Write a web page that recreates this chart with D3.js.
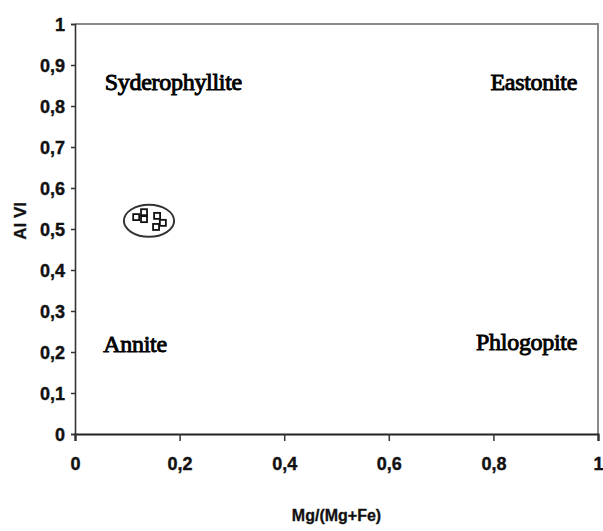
<!DOCTYPE html>
<html>
<head>
<meta charset="utf-8">
<script src="https://cdn.jsdelivr.net/npm/d3@7"></script>
<style>
  body { margin: 0; background: #fff; }
  svg { display: block; }
  .tick text { font-family: "Liberation Sans", Arial, sans-serif; font-weight: bold; font-size: 18px; fill: #111; stroke: #111; stroke-width: 0.4px; }
  .field { font-family: "Liberation Serif", "Times New Roman", serif; font-size: 24px; fill: #000; stroke: #000; stroke-width: 0.9px; letter-spacing: -0.3px; }
  .title { font-family: "Liberation Sans", Arial, sans-serif; font-weight: bold; fill: #111; stroke: #111; stroke-width: 0.3px; }
</style>
</head>
<body>
<svg width="603" height="531"></svg>
<script>
// axis ticks
const xTicks = [0, 0.2, 0.4, 0.6, 0.8, 1];
const yTicks = [0, 0.1, 0.2, 0.3, 0.4, 0.5, 0.6, 0.7, 0.8, 0.9, 1];

// measured biotites, Mg/(Mg+Fe) vs Al VI
const mgRatio = [0.117, 0.132, 0.132, 0.157, 0.155, 0.168];
const alVI    = [0.529, 0.541, 0.524, 0.532, 0.505, 0.515];

// end-member names and where they sit
const fieldNames  = ["Syderophyllite", "Eastonite", "Annite", "Phlogopite"];
const fieldX      = [0.057, 0.96, 0.054, 0.96];
const fieldY      = [0.84, 0.84, 0.2, 0.205];
const fieldAnchor = ["start", "end", "start", "end"];

// the ring drawn round the samples
const ring = { cx: 0.1415, cy: 0.52, rx: 0.048, ry: 0.039 };

const svg = d3.select("svg");
const margin = { top: 24, right: 5, bottom: 97, left: 75 };
const width = 603, height = 531;

const x = d3.scaleLinear().domain([0, 1]).range([margin.left, width - margin.right]);
const y = d3.scaleLinear().domain([0, 1]).range([height - margin.bottom, margin.top]);

const fmt = d3.formatLocale({ decimal: ",", thousands: ".", grouping: [3], currency: ["", ""] }).format("~g");

// frame: top and right edges
svg.append("path")
  .attr("d", `M${x(0)},${y(1)}H${x(1)}V${y(0)}`)
  .attr("fill", "none")
  .attr("stroke", "#8a8a8a")
  .attr("stroke-width", 2);

// y axis
svg.append("g")
  .attr("transform", `translate(${x(0)},0)`)
  .call(d3.axisLeft(y).tickValues(yTicks).tickFormat(fmt).tickSize(4).tickPadding(6))
  .call(g => g.select(".domain").attr("stroke", "#333").attr("stroke-width", 1.6))
  .call(g => g.selectAll(".tick line").attr("stroke", "#333").attr("stroke-width", 1.5))
  .call(g => g.selectAll(".tick text").attr("dy", "0.36em"));

// x axis
svg.append("g")
  .attr("transform", `translate(0,${y(0)})`)
  .call(d3.axisBottom(x).tickValues(xTicks).tickFormat(fmt).tickSize(7).tickPadding(16))
  .call(g => g.select(".domain").attr("stroke", "#222").attr("stroke-width", 2.2))
  .call(g => g.selectAll(".tick line").attr("stroke", "#333").attr("stroke-width", 1.5));

// axis titles
svg.append("text")
  .attr("class", "title")
  .attr("x", (x(0) + x(1)) / 2)
  .attr("y", 521)
  .attr("text-anchor", "middle")
  .attr("font-size", 16)
  .text("Mg/(Mg+Fe)");

svg.append("text")
  .attr("class", "title")
  .attr("transform", `translate(26,${y(0.52)}) rotate(-90)`)
  .attr("text-anchor", "middle")
  .attr("font-size", 17)
  .text("Al VI");

// field names
svg.append("g")
  .selectAll("text")
  .data(fieldNames)
  .join("text")
    .attr("class", "field")
    .attr("x", (d, i) => x(fieldX[i]))
    .attr("y", (d, i) => y(fieldY[i]))
    .attr("text-anchor", (d, i) => fieldAnchor[i])
    .text(d => d);

// ring round the samples
svg.append("ellipse")
  .attr("cx", x(ring.cx))
  .attr("cy", y(ring.cy))
  .attr("rx", x(ring.rx) - x(0))
  .attr("ry", y(0) - y(ring.ry))
  .attr("fill", "none")
  .attr("stroke", "#333")
  .attr("stroke-width", 2);

// sample points
svg.append("g")
  .selectAll("rect")
  .data(mgRatio.map((v, i) => ({ x: v, y: alVI[i] })))
  .join("rect")
    .attr("x", d => x(d.x) - 3)
    .attr("y", d => y(d.y) - 3)
    .attr("width", 6)
    .attr("height", 6)
    .attr("fill", "#fff")
    .attr("stroke", "#111")
    .attr("stroke-width", 1.8);
</script>
</body>
</html>
